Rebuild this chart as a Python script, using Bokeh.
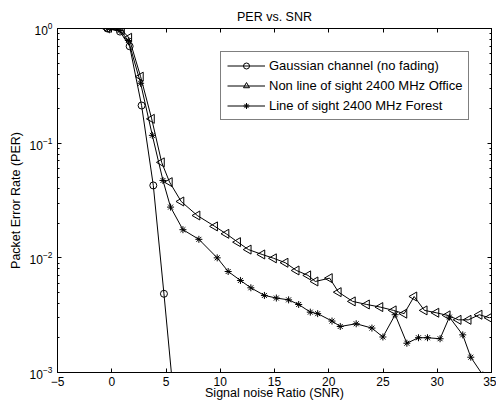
import math
from bokeh.plotting import figure
from bokeh.models import (Range1d, FixedTicker, LinearAxis, LogAxis, Legend, LegendItem,
                          ColumnDataSource)
from bokeh.embed import file_html
from bokeh.resources import INLINE

# ---- data ----
snr_gauss = [-0.4, 0.76, 1.65, 2.75, 3.83, 4.81, 5.9]
per_gauss = [1.0, 0.94, 0.70, 0.213, 0.0428, 0.00486, 0.00039]

snr_nlos = [-0.4, 0.92, 1.59, 2.66, 3.68, 4.6, 5.33, 6.4, 7.88, 9.5, 10.55, 11.62,
            12.6, 13.86, 14.93, 16.0, 17.02, 18.09, 18.76, 20.08, 20.9, 22.2, 23.5,
            24.74, 25.97, 26.95, 27.87, 28.82, 29.9, 30.94, 31.95, 32.87, 33.88, 34.8]
per_nlos = [1.0, 0.97, 0.83, 0.38, 0.163, 0.068, 0.0457, 0.031, 0.0234, 0.0188, 0.0162,
            0.0137, 0.0118, 0.0107, 0.0099, 0.00906, 0.00776, 0.00703, 0.00622, 0.00665,
            0.00502, 0.00417, 0.00392, 0.00372, 0.00348, 0.00326, 0.0046, 0.00348,
            0.00332, 0.00315, 0.00288, 0.00288, 0.00319, 0.0030]

snr_los = [-0.4, 0.76, 1.53, 2.66, 3.74, 4.72, 5.42, 6.56, 8.03, 9.72, 10.73, 11.86,
           12.82, 14.07, 15.17, 16.3, 17.23, 18.3, 18.98, 20.3, 21.06, 22.53, 23.98,
           24.99, 26.12, 27.2, 28.27, 29.1, 30.26, 31.12, 32.35, 33.09, 34.2]
per_los = [1.0, 0.96, 0.786, 0.333, 0.117, 0.0473, 0.0277, 0.0176, 0.0145, 0.0100,
           0.0076, 0.00635, 0.00548, 0.0047, 0.00446, 0.0043, 0.00392, 0.00336, 0.00326,
           0.00281, 0.00252, 0.00266, 0.00244, 0.00204, 0.00319, 0.0018, 0.00201,
           0.00201, 0.00197, 0.00304, 0.00213, 0.00136, 0.00095]

series_labels = ["Gaussian channel (no fading)",
                 "Non line of sight 2400 MHz Office",
                 "Line of sight 2400 MHz Forest"]

x_ticks = [-5, 0, 5, 10, 15, 20, 25, 30, 35]
y_ticks = [1e-3, 1e-2, 1e-1, 1.0]
y_minor = [m * 10.0 ** e for e in (-3, -2, -1) for m in range(2, 10)]

FONT = "Liberation Sans"
FS = "12.5px"
TFS = "12px"
LFS = "13px"

p = figure(width=496, height=406, output_backend="svg", toolbar_location=None,
           y_axis_type="log", x_range=Range1d(-5, 35), y_range=Range1d(1e-3, 1),
           x_axis_location=None, y_axis_location=None,
           min_border_left=57, min_border_right=5, min_border_top=28, min_border_bottom=34)
p.title.text = "PER vs. SNR"
p.title.align = "center"
p.title.text_font = FONT
p.title.text_font_size = FS
p.title.text_font_style = "normal"
p.title.text_color = "black"
p.title.standoff = 9
p.xgrid.visible = False
p.ygrid.visible = False
p.outline_line_color = "black"
p.outline_line_width = 1
p.background_fill_color = "white"
p.border_fill_color = "white"

xt = FixedTicker(ticks=x_ticks)
yt = FixedTicker(ticks=y_ticks, minor_ticks=y_minor)


def style(ax, labels=True):
    ax.major_tick_in = 4
    ax.major_tick_out = 0
    ax.minor_tick_in = 2
    ax.minor_tick_out = 0
    ax.axis_line_color = "black"
    ax.major_tick_line_color = "black"
    ax.minor_tick_line_color = "black"
    ax.major_label_text_font = FONT
    ax.major_label_text_color = "black"
    ax.axis_label_text_font = FONT
    ax.axis_label_text_font_size = FS
    ax.axis_label_text_font_style = "normal"
    ax.axis_label_text_color = "black"
    if labels:
        ax.major_label_text_font_size = TFS
    else:
        ax.major_label_text_font_size = "1px"
        ax.major_label_text_alpha = 0
        ax.major_label_standoff = 0


xb = LinearAxis(ticker=xt, axis_label="Signal noise Ratio (SNR)")
style(xb)
xb.minor_tick_line_color = None
xb.major_label_standoff = 4
xb.axis_label_standoff = -3
p.add_layout(xb, "below")

xa = LinearAxis(ticker=xt)
style(xa, labels=False)
xa.minor_tick_line_color = None
p.add_layout(xa, "above")

yl = LogAxis(ticker=yt, axis_label="Packet Error Rate (PER)")
style(yl)
yl.major_label_standoff = 5
yl.axis_label_standoff = 4
p.add_layout(yl, "left")

yr = LogAxis(ticker=yt)
style(yr, labels=False)
p.add_layout(yr, "right")

nlos_src = ColumnDataSource(data=dict(x=snr_nlos, y=per_nlos,
                                      ang=[math.pi / 2] * len(snr_nlos)))

l1 = p.line(snr_gauss, per_gauss, line_color="black", line_width=1)
s1 = p.scatter(snr_gauss, per_gauss, marker="circle", size=7, line_color="black",
               fill_alpha=0, line_width=1)
l2 = p.line("x", "y", source=nlos_src, line_color="black", line_width=1)
s2 = p.scatter("x", "y", source=nlos_src, marker="triangle", angle="ang", size=9,
               line_color="black", fill_alpha=0, line_width=1)
l3 = p.line(snr_los, per_los, line_color="black", line_width=1)
s3 = p.scatter(snr_los, per_los, marker="asterisk", size=7, line_color="black",
               line_width=1)

legend = Legend(items=[LegendItem(label=series_labels[0], renderers=[l1, s1]),
                       LegendItem(label=series_labels[1], renderers=[l2, s2], index=0),
                       LegendItem(label=series_labels[2], renderers=[l3, s3])],
                location=(163, 252), label_text_font=FONT, label_text_font_size=LFS,
                label_text_color="black",
                glyph_width=38, glyph_height=15, label_height=15, spacing=5,
                padding=6, margin=0, label_standoff=4,
                border_line_color="black", border_line_width=1,
                background_fill_color="white", background_fill_alpha=1)
p.add_layout(legend, "center")

open("out.html", "w").write(file_html(p, INLINE))
